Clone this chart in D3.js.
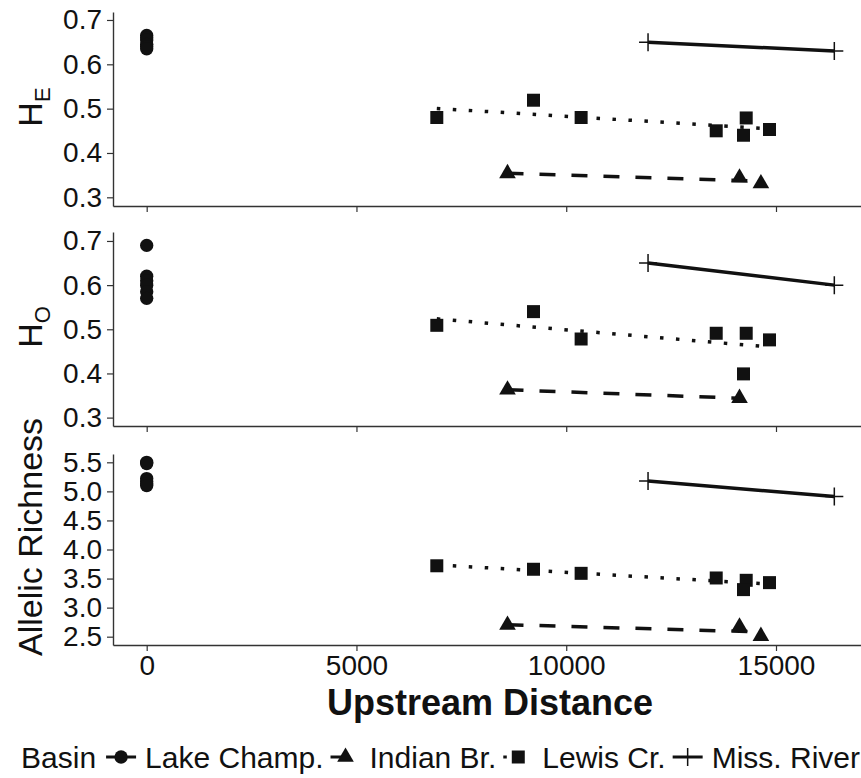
<!DOCTYPE html>
<html>
<head>
<meta charset="utf-8">
<script src="https://cdn.jsdelivr.net/npm/d3@7"></script>
<style>
  body { margin: 0; background: #fff; }
  svg { font-family: "Liberation Sans", Arial, Helvetica, sans-serif; }
</style>
</head>
<body>
<div id="chart"></div>
<script>
// ---- data ----
const basins = ["Lake Champ.", "Indian Br.", "Lewis Cr.", "Miss. River"];

const lakeDist = [0, 0, 0, 0, 0, 0];
const lakeHE = [0.665, 0.66, 0.655, 0.645, 0.64, 0.635];
const lakeHO = [0.69, 0.62, 0.61, 0.60, 0.585, 0.57];
const lakeAR = [5.5, 5.48, 5.22, 5.17, 5.13, 5.1];

const indianDist = [8600, 14130, 14640];
const indianHE = [0.354, 0.344, 0.331];
const indianHO = [0.363, 0.344, null];
const indianAR = [2.70, 2.67, 2.51];

const lewisDist = [6915, 9220, 10355, 13575, 14290, 14225, 14845];
const lewisHE = [0.480, 0.519, 0.480, 0.450, 0.479, 0.440, 0.453];
const lewisHO = [0.509, 0.540, 0.478, 0.491, 0.491, 0.399, 0.476];
const lewisAR = [3.72, 3.66, 3.59, 3.51, 3.47, 3.31, 3.43];

const missDist = [11950, 16390];
const missHE = [0.650, 0.630];
const missHO = [0.650, 0.600];
const missAR = [5.18, 4.91];

const xTicks = [0, 5000, 10000, 15000];
const heTicks = [0.3, 0.4, 0.5, 0.6, 0.7];
const hoTicks = [0.3, 0.4, 0.5, 0.6, 0.7];
const arTicks = [2.5, 3.0, 3.5, 4.0, 4.5, 5.0, 5.5];

// ---- setup ----
const width = 861, height = 778;
const ink = "#111";
const axisCol = "#333";

const series = {
  "Lake Champ.": {dist: lakeDist, HE: lakeHE, HO: lakeHO, AR: lakeAR},
  "Indian Br.":  {dist: indianDist, HE: indianHE, HO: indianHO, AR: indianAR},
  "Lewis Cr.":   {dist: lewisDist, HE: lewisHE, HO: lewisHO, AR: lewisAR},
  "Miss. River": {dist: missDist, HE: missHE, HO: missHO, AR: missAR}
};

const dashes = {
  "Lake Champ.": null,
  "Indian Br.": "16,16",
  "Lewis Cr.": "3.5,12.5",
  "Miss. River": null
};

const shapes = {
  "Lake Champ.": d3.symbol(d3.symbolCircle, 140)(),
  "Indian Br.": d3.symbol(d3.symbolTriangle, 120)(),
  "Lewis Cr.": d3.symbol(d3.symbolSquare, 169)(),
  "Miss. River": "M-9,0H9M0,-9V9"
};

const svg = d3.select("#chart").append("svg")
  .attr("width", width)
  .attr("height", height);

const x = d3.scaleLinear().domain([-803, 17026]).range([113, 861]);

const panels = [
  {key: "HE", top: 12, bottom: 206, domain: [0.2804, 0.718], ticks: heTicks, fmt: d3.format(".1f"), title: ["H", "E"]},
  {key: "HO", top: 232, bottom: 426, domain: [0.281, 0.7203], ticks: hoTicks, fmt: d3.format(".1f"), title: ["H", "O"]},
  {key: "AR", top: 454, bottom: 645, domain: [2.357, 5.643], ticks: arTicks, fmt: d3.format(".1f"), title: ["Allelic Richness"]}
];

function lm(pts) {
  const mx = d3.mean(pts, d => d.x), my = d3.mean(pts, d => d.y);
  const b = d3.sum(pts, d => (d.x - mx) * (d.y - my)) / d3.sum(pts, d => (d.x - mx) ** 2);
  return {a: my - b * mx, b};
}

panels.forEach(p => {
  const y = d3.scaleLinear().domain(p.domain).range([p.bottom, p.top]);
  const g = svg.append("g");

  // y axis
  const ya = g.append("g")
    .attr("transform", `translate(${x.range()[0]},0)`)
    .call(d3.axisLeft(y).tickValues(p.ticks).tickFormat(p.fmt).tickSize(6).tickSizeOuter(0).tickPadding(5));
  ya.select(".domain").attr("stroke", axisCol).attr("stroke-width", 1.4);
  ya.selectAll(".tick line").attr("stroke", axisCol).attr("stroke-width", 1.2);
  ya.selectAll(".tick text").attr("fill", ink).attr("font-size", 28).attr("font-family", "Liberation Sans, Arial, sans-serif");

  // x axis
  const xa = g.append("g")
    .attr("transform", `translate(0,${p.bottom})`)
    .call(d3.axisBottom(x).tickValues(xTicks).tickFormat(p.key === "AR" ? d3.format("d") : "").tickSize(6).tickSizeOuter(0).tickPadding(4));
  xa.select(".domain").attr("stroke", axisCol).attr("stroke-width", 1.4);
  xa.selectAll(".tick line").attr("stroke", axisCol).attr("stroke-width", 1.2);
  xa.selectAll(".tick text").attr("fill", ink).attr("font-size", 28).attr("font-family", "Liberation Sans, Arial, sans-serif");

  // y title
  const cy = p.key === "AR" ? 537 : (p.top + p.bottom) / 2 - 2;
  const t = g.append("text")
    .attr("transform", `translate(42,${cy}) rotate(-90)`)
    .attr("text-anchor", "middle")
    .attr("fill", ink)
    .attr("font-size", 34);
  t.append("tspan").text(p.title[0]);
  if (p.title[1]) t.append("tspan").attr("dy", 8).attr("font-size", 22).text(p.title[1]);

  // fitted lines
  basins.forEach(b => {
    const s = series[b];
    const pts = s.dist.map((d, i) => ({x: d, y: s[p.key][i]})).filter(d => d.y != null);
    const ext = d3.extent(pts, d => d.x);
    if (ext[0] === ext[1]) return;
    const f = lm(pts);
    g.append("line")
      .attr("x1", x(ext[0])).attr("y1", y(f.a + f.b * ext[0]))
      .attr("x2", x(ext[1])).attr("y2", y(f.a + f.b * ext[1]))
      .attr("stroke", ink)
      .attr("stroke-width", 3.5)
      .attr("stroke-dasharray", dashes[b]);
  });

  // points
  basins.forEach(b => {
    const s = series[b];
    const pts = s.dist.map((d, i) => ({x: d, y: s[p.key][i]})).filter(d => d.y != null);
    g.selectAll(null)
      .data(pts)
      .join("path")
      .attr("transform", d => `translate(${x(d.x)},${y(d.y)})`)
      .attr("d", shapes[b])
      .attr("fill", b === "Miss. River" ? "none" : ink)
      .attr("stroke", b === "Miss. River" ? ink : "none")
      .attr("stroke-width", 1.5);
  });
});

// x title
svg.append("text")
  .attr("x", 490).attr("y", 715)
  .attr("text-anchor", "middle")
  .attr("font-weight", "bold")
  .attr("font-size", 36)
  .attr("fill", ink)
  .text("Upstream Distance");

// legend
const leg = svg.append("g").attr("transform", "translate(0,768)");
const fs = 30, keyW = 30;
let cx = 0;
const lt = leg.append("text").attr("x", cx).attr("font-size", fs).attr("fill", ink).text("Basin");
cx += lt.node().getComputedTextLength() + 10;
basins.forEach((b, i) => {
  const k = leg.append("g").attr("transform", `translate(${cx},-11)`);
  k.append("line")
    .attr("x1", 0).attr("x2", keyW)
    .attr("stroke", ink).attr("stroke-width", 3)
    .attr("stroke-dasharray", dashes[b]);
  k.append("path")
    .attr("transform", `translate(${keyW / 2},0)`)
    .attr("d", shapes[b])
    .attr("fill", b === "Miss. River" ? "none" : ink)
    .attr("stroke", b === "Miss. River" ? ink : "none")
    .attr("stroke-width", 1.5);
  cx += keyW + 9;
  const tx = leg.append("text").attr("x", cx).attr("font-size", fs).attr("fill", ink).text(b);
  cx += tx.node().getComputedTextLength() + 7;
});
const total = cx - 7;
leg.attr("transform", `translate(${Math.max(20, 860 - total)},768)`);
</script>
</body>
</html>
